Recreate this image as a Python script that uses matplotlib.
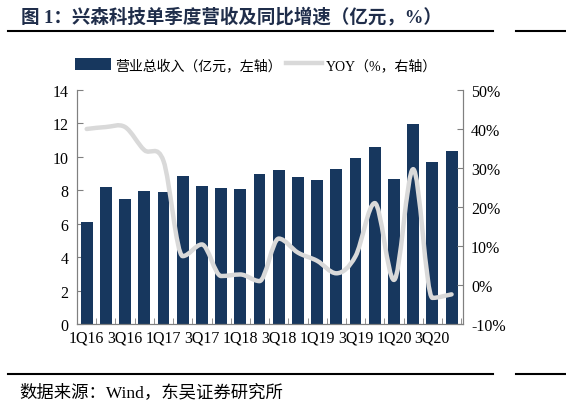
import matplotlib
matplotlib.use('Agg')
import matplotlib.pyplot as plt
from matplotlib.path import Path
from matplotlib.patches import PathPatch
from matplotlib.lines import Line2D
from matplotlib.patches import Patch
import numpy as np

plt.rcParams['font.family'] = ['Liberation Serif', 'Noto Sans CJK SC']

quarters = ['1Q16', '2Q16', '3Q16', '4Q16', '1Q17', '2Q17', '3Q17', '4Q17',
            '1Q18', '2Q18', '3Q18', '4Q18', '1Q19', '2Q19', '3Q19', '4Q19',
            '1Q20', '2Q20', '3Q20', '4Q20']
revenue = [6.1, 8.2, 7.5, 7.95, 7.9, 8.85, 8.25, 8.15, 8.1, 9.0,
           9.2, 8.8, 8.6, 9.25, 9.95, 10.6, 8.7, 11.95, 9.7, 10.35]
yoy = [40.0, 40.5, 40.5, 34.6, 31.8, 7.4, 10.4, 2.3, 2.7, 1.0,
       11.9, 8.3, 6.2, 3.0, 7.4, 21.0, 1.3, 29.7, -3.3, -2.4]

bar_color = '#17375e'
line_color = '#d9d9d9'
axis_color = '#808080'

fig = plt.figure(figsize=(5.66, 4.06), dpi=100)
ax = fig.add_axes([0.1355, 0.1995, 0.682, 0.5764])
ax2 = ax.twinx()

x = np.arange(len(quarters))
ax.bar(x, revenue, width=0.62, color=bar_color, zorder=2)
ax.set_xlim(-0.52, 19.58)
ax.set_ylim(0, 14)
ax.set_yticks(np.arange(0, 15, 2))
ax.set_xticks(x[::2])
ax.set_xticklabels(quarters[::2])
ax.set_xticks(np.arange(-0.5, 20, 1), minor=True)
ax.tick_params(axis='x', which='major', length=0, labelsize=11.5, pad=4)
ax.tick_params(axis='x', which='minor', direction='in', length=4, color=axis_color)
ax.tick_params(axis='y', direction='in', length=4, color=axis_color, labelsize=11.5, pad=6)

# smooth line through the points, flat tangent at local extremes
ys = np.array(yoy, dtype=float)
n = len(ys)
tang = np.zeros(n)
for i in range(n):
    lo, hi = max(i - 1, 0), min(i + 1, n - 1)
    tang[i] = (ys[hi] - ys[lo]) / (hi - lo)
    if 0 < i < n - 1 and (ys[i] - ys[i - 1]) * (ys[i + 1] - ys[i]) < 0:
        tang[i] = 0.0
verts = [(x[0], ys[0])]
codes = [Path.MOVETO]
for i in range(n - 1):
    verts += [(x[i] + 1 / 3, ys[i] + tang[i] / 3),
              (x[i + 1] - 1 / 3, ys[i + 1] - tang[i + 1] / 3),
              (x[i + 1], ys[i + 1])]
    codes += [Path.CURVE4] * 3
ax2.add_patch(PathPatch(Path(verts, codes), facecolor='none', edgecolor=line_color,
                        lw=3.2, capstyle='round', joinstyle='round', zorder=3))
ax2.set_ylim(-10, 50)
ax2.set_yticks(np.arange(-10, 51, 10))
ax2.set_yticklabels([f'{v}%' for v in range(-10, 51, 10)])
ax2.tick_params(axis='y', direction='in', length=4, color=axis_color, labelsize=11.5, pad=6)

for a in (ax, ax2):
    a.spines['top'].set_visible(False)
    for s in ('left', 'right', 'bottom'):
        a.spines[s].set_color(axis_color)
        a.spines[s].set_linewidth(0.8)

handles = [Patch(facecolor=bar_color), Line2D([0], [0], color=line_color, lw=3.2)]
labels = ['营业总收入（亿元，左轴）', 'YOY（%，右轴）']
fig.legend(handles, labels, loc='center', bbox_to_anchor=(0.452, 0.838), ncol=2,
           frameon=False, fontsize=10, handlelength=2.6, handleheight=0.9,
           columnspacing=0.3, handletextpad=0.3)

fig.text(0.037, 0.958, '图 1：兴森科技单季度营收及同比增速（亿元，%）', fontsize=13.3,
         fontweight='bold', color='#1f2d4a', va='center')
fig.text(0.035, 0.033, '数据来源：Wind，东吴证券研究所', fontsize=12.5, va='center')

for yy in (0.922, 0.076):
    fig.add_artist(Line2D([0.015, 0.871], [yy, yy], color='black', lw=1.5))
    fig.add_artist(Line2D([0.912, 1.0], [yy, yy], color='black', lw=1.5))

fig.savefig('out.png', dpi=100)
